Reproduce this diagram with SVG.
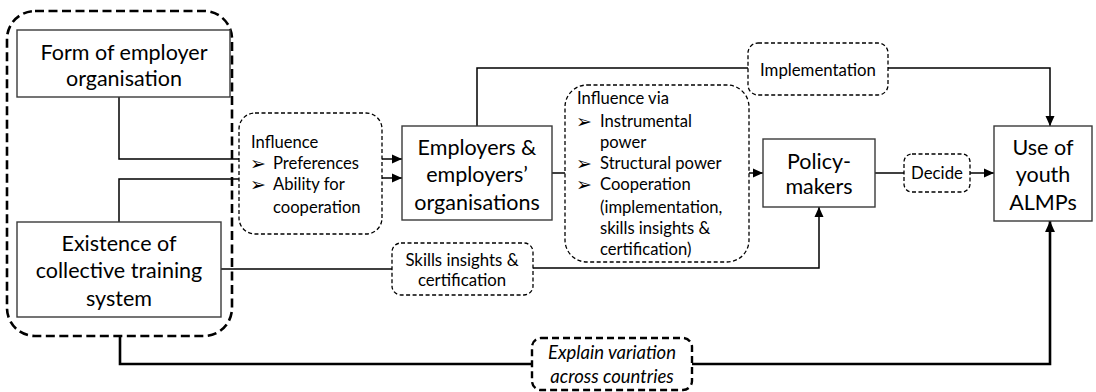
<svg xmlns="http://www.w3.org/2000/svg" width="1096" height="392" viewBox="0 0 1096 392">
  <style>
    .box { fill: #ffffff; stroke: #3a3a3a; stroke-width: 1.4; }
    .note { fill: #ffffff; stroke: #000000; stroke-width: 1.3; stroke-dasharray: 4 2.5; }
    .group { fill: none; stroke: #000000; stroke-width: 2.6; stroke-dasharray: 9 4.5; }
    .note-thick { fill: #ffffff; stroke: #000000; stroke-width: 2.4; stroke-dasharray: 7 4; }
    .link { fill: none; stroke: #000000; stroke-width: 1.5; }
    .link-thick { fill: none; stroke: #000000; stroke-width: 2.6; }
    text { font-family: Lato, "Liberation Sans", sans-serif; fill: #000000; }
    .big { font-size: 21.5px; text-anchor: middle; }
    .small { font-size: 16.6px; }
    .smallc { font-size: 16.8px; text-anchor: middle; }
    .it { font-style: italic; font-size: 18.5px; }
    .bullet { font-family: "DejaVu Sans", sans-serif; font-size: 19px; }
  </style>
  <defs>
    <marker id="arrow" viewBox="0 0 10 10" refX="10" refY="5" markerWidth="10" markerHeight="10" markerUnits="userSpaceOnUse" orient="auto">
      <path d="M0,0.5 L10,5 L0,9.5 Z" fill="#000000"/>
    </marker>
    <marker id="arrow-thick" viewBox="0 0 10 10" refX="10" refY="5" markerWidth="11" markerHeight="11" markerUnits="userSpaceOnUse" orient="auto">
      <path d="M0,0.5 L10,5 L0,9.5 Z" fill="#000000"/>
    </marker>
  </defs>

  <!-- connectors -->
  <g id="connectors">
    <path class="link" d="M119,97 V159 H240"/>
    <path class="link" d="M119,222 V179 H240"/>
    <path class="link" d="M382,159 H402" marker-end="url(#arrow)"/>
    <path class="link" d="M382,178 H402" marker-end="url(#arrow)"/>
    <path class="link" d="M477,126 V68 H748"/>
    <path class="link" d="M888,68 H1050 V126" marker-end="url(#arrow)"/>
    <path class="link" d="M552,173 H565"/>
    <path class="link" d="M749,173 H763" marker-end="url(#arrow)"/>
    <path class="link" d="M875,173 H904"/>
    <path class="link" d="M970,173 H994" marker-end="url(#arrow)"/>
    <path class="link" d="M221,269 H392"/>
    <path class="link" d="M533,268 H819 V207" marker-end="url(#arrow)"/>
    <path class="link-thick" d="M120,336 V364 H532"/>
    <path class="link-thick" d="M692,364 H1050 V221" marker-end="url(#arrow-thick)"/>
  </g>

  <!-- context group: structural factors -->
  <g id="structural-factors">
    <rect class="group" x="7" y="11" width="225" height="325" rx="28"/>
  </g>

  <g id="form-of-employer-organisation">
    <rect class="box" x="17" y="30" width="213" height="67"/>
    <text class="big" x="124" y="59.5">Form of employer</text>
    <text class="big" x="124" y="85.5">organisation</text>
  </g>

  <g id="collective-training-system">
    <rect class="box" x="17" y="222" width="204" height="95"/>
    <text class="big" x="119" y="250.5">Existence of</text>
    <text class="big" x="119" y="277.5">collective training</text>
    <text class="big" x="119" y="305.5">system</text>
  </g>

  <g id="influence-preferences">
    <rect class="note" x="239" y="113" width="143" height="121" rx="16"/>
    <text class="small" x="251" y="147.5">Influence</text>
    <text class="bullet" x="250" y="169.5">➢</text>
    <text class="small" x="273" y="168.5">Preferences</text>
    <text class="bullet" x="250" y="190.5">➢</text>
    <text class="small" x="273" y="189.5">Ability for</text>
    <text class="small" x="273" y="212.5">cooperation</text>
  </g>

  <g id="employers">
    <rect class="box" x="402" y="126" width="150" height="94"/>
    <text class="big" x="477" y="154.5">Employers &amp;</text>
    <text class="big" x="477" y="181.5">employers’</text>
    <text class="big" x="477" y="209.5">organisations</text>
  </g>

  <g id="influence-via">
    <rect class="note" x="565" y="85" width="184" height="177" rx="22"/>
    <text class="small" x="577" y="103.5">Influence via</text>
    <text class="bullet" x="576" y="127.5">➢</text>
    <text class="small" x="600" y="126.5">Instrumental</text>
    <text class="small" x="600" y="147.5">power</text>
    <text class="bullet" x="576" y="169.5">➢</text>
    <text class="small" x="600" y="168.5">Structural power</text>
    <text class="bullet" x="576" y="190.5">➢</text>
    <text class="small" x="600" y="189.5">Cooperation</text>
    <text class="small" x="600" y="212.5">(implementation,</text>
    <text class="small" x="600" y="233.5">skills insights &amp;</text>
    <text class="small" x="600" y="254.5">certification)</text>
  </g>

  <g id="implementation">
    <rect class="note" x="748" y="43" width="140" height="52" rx="10"/>
    <text class="smallc" x="818" y="75.5">Implementation</text>
  </g>

  <g id="policy-makers">
    <rect class="box" x="763" y="139" width="112" height="68"/>
    <text class="big" x="819" y="168.5">Policy-</text>
    <text class="big" x="819" y="193.5">makers</text>
  </g>

  <g id="decide">
    <rect class="note" x="904" y="154" width="66" height="38" rx="8"/>
    <text class="smallc" x="937" y="178.5">Decide</text>
  </g>

  <g id="youth-almps">
    <rect class="box" x="994" y="126" width="98" height="95"/>
    <text class="big" x="1043" y="154.5">Use of</text>
    <text class="big" x="1043" y="181.5">youth</text>
    <text class="big" x="1043" y="209.5">ALMPs</text>
  </g>

  <g id="skills-insights">
    <rect class="note" x="392" y="243" width="141" height="52" rx="9"/>
    <text class="smallc" x="462" y="265.5">Skills insights &amp;</text>
    <text class="smallc" x="462" y="285.5">certification</text>
  </g>

  <g id="explain-variation">
    <rect class="note-thick" x="532" y="338" width="160" height="52" rx="9"/>
    <text class="smallc it" x="612" y="359">Explain variation</text>
    <text class="smallc it" x="612" y="383">across countries</text>
  </g>
</svg>
